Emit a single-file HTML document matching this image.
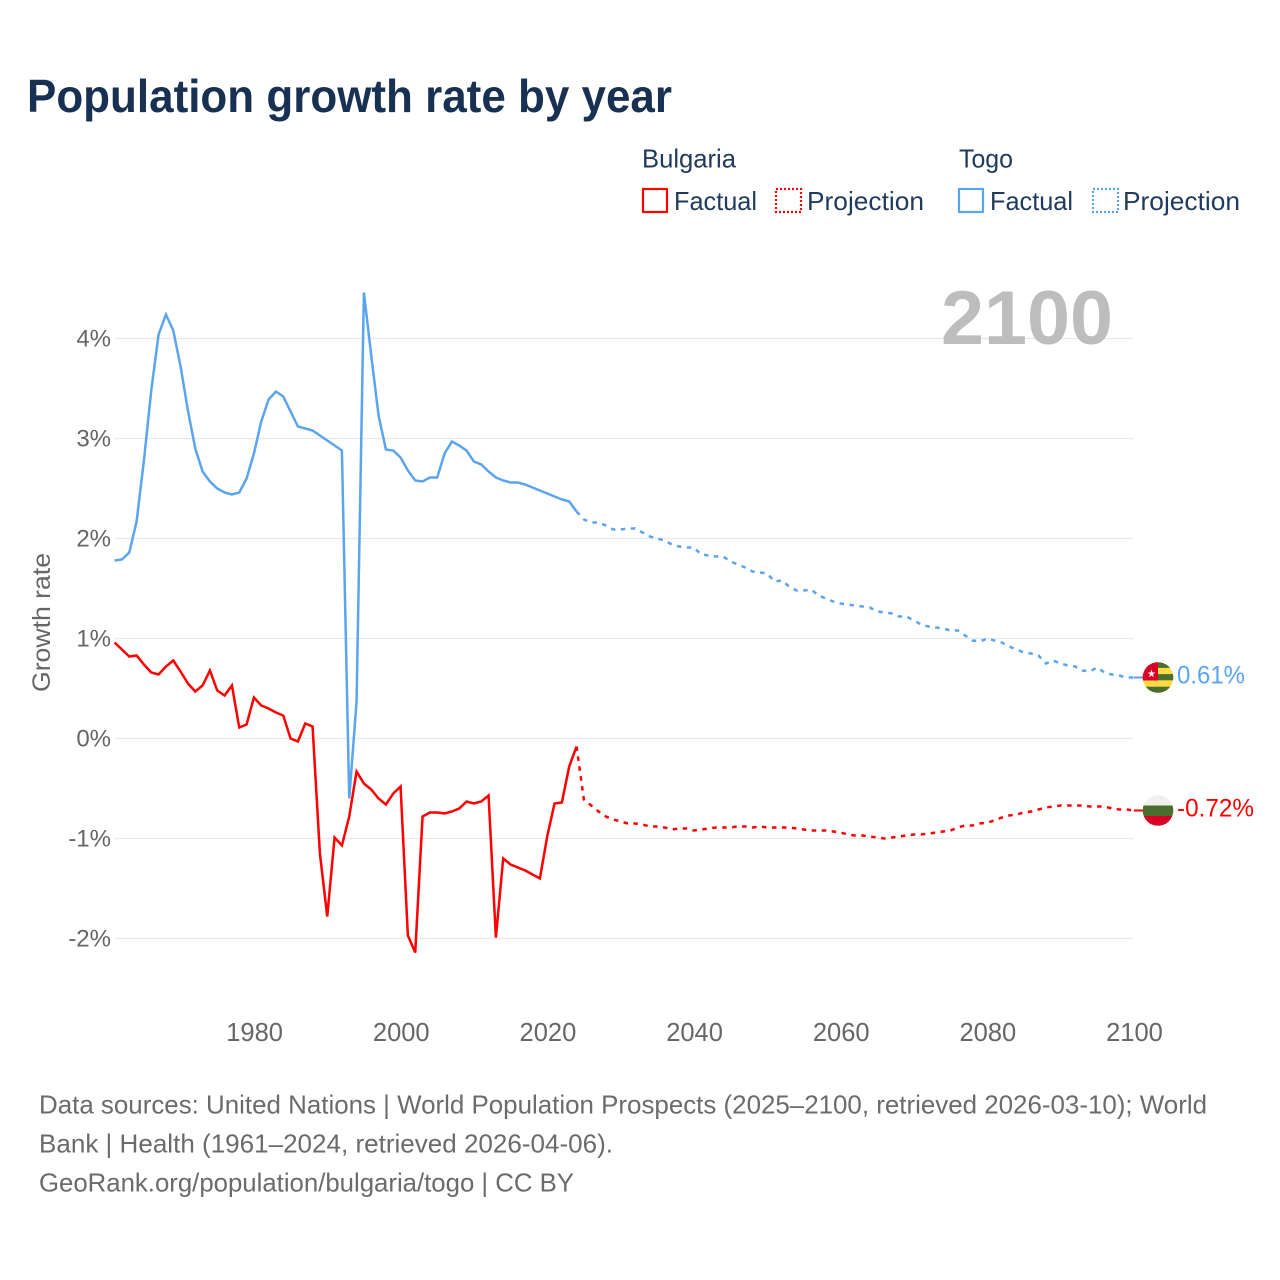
<!DOCTYPE html>
<html lang="en">
<head>
<meta charset="utf-8">
<title>Population growth rate by year</title>
<style>
html,body{margin:0;padding:0;background:#fff;}
svg{display:block;font-family:"Liberation Sans",sans-serif;}
</style>
</head>
<body>
<svg id="chart" xmlns="http://www.w3.org/2000/svg" width="1280" height="1280" viewBox="0 0 1280 1280">
  <rect x="0" y="0" width="1280" height="1280" fill="#ffffff"/>
  <text x="27" y="112" font-size="46" font-weight="700" fill="#183153" textLength="645" lengthAdjust="spacingAndGlyphs">Population growth rate by year</text>

  <g font-size="26" fill="#1f3a5c">
    <text x="642" y="167.5" textLength="94" lengthAdjust="spacingAndGlyphs">Bulgaria</text>
    <text x="959" y="167.5" textLength="54" lengthAdjust="spacingAndGlyphs">Togo</text>
    <g>
      <rect x="643" y="189" width="24" height="23" fill="none" stroke="#ff0000" stroke-width="2.2"/>
      <text x="674" y="210" textLength="83" lengthAdjust="spacingAndGlyphs">Factual</text>
    </g>
    <g>
      <rect x="776" y="189" width="25" height="23" fill="none" stroke="#ff0000" stroke-width="2.2" stroke-dasharray="2 2"/>
      <text x="807" y="210" textLength="117" lengthAdjust="spacingAndGlyphs">Projection</text>
    </g>
    <g>
      <rect x="959" y="189" width="24" height="23" fill="none" stroke="#5ba4ee" stroke-width="2.2"/>
      <text x="990" y="210" textLength="83" lengthAdjust="spacingAndGlyphs">Factual</text>
    </g>
    <g>
      <rect x="1093" y="189" width="25" height="23" fill="none" stroke="#5ba4ee" stroke-width="2.2" stroke-dasharray="2 2"/>
      <text x="1123" y="210" textLength="117" lengthAdjust="spacingAndGlyphs">Projection</text>
    </g>
  </g>

  <g id="grid"></g>
  <text x="941" y="344" font-size="76" font-weight="700" fill="#bdbdbd" textLength="172" lengthAdjust="spacingAndGlyphs">2100</text>
  <g id="yticks" font-size="24" fill="#666666" text-anchor="end"></g>
  <g id="xticks" font-size="25.5" fill="#666666" text-anchor="middle"></g>
  <text transform="translate(50,622.5) rotate(-90)" font-size="25" fill="#666666" text-anchor="middle" textLength="139" lengthAdjust="spacingAndGlyphs">Growth rate</text>
  <g id="series" fill="none" stroke-width="2.5" stroke-linejoin="miter"></g>
  <g id="ends"></g>

  <g font-size="26" fill="#6b6b6b">
    <text x="39" y="1113.5" textLength="1168" lengthAdjust="spacingAndGlyphs">Data sources: United Nations | World Population Prospects (2025–2100, retrieved 2026-03-10); World</text>
    <text x="39" y="1152.5" textLength="574" lengthAdjust="spacingAndGlyphs">Bank | Health (1961–2024, retrieved 2026-04-06).</text>
    <text x="39" y="1191.5" textLength="535" lengthAdjust="spacingAndGlyphs">GeoRank.org/population/bulgaria/togo | CC BY</text>
  </g>
</svg>
<script>
const xTickYears = [1980, 2000, 2020, 2040, 2060, 2080, 2100];
const yTickValues = [4, 3, 2, 1, 0, -1, -2];
const firstFactualYear = 1961;
const firstProjectionYear = 2024;

const togoFactual = [
  1.78,1.79,1.86,2.17,2.78,3.48,4.04,4.24,4.08,3.72,
  3.28,2.90,2.67,2.57,2.50,2.46,2.44,2.46,2.60,2.85,
  3.17,3.39,3.47,3.42,3.27,3.12,3.10,3.08,3.03,2.98,
  2.93,2.88,-0.60,0.37,4.46,3.83,3.23,2.89,2.88,2.81,
  2.68,2.58,2.57,2.61,2.61,2.85,2.97,2.93,2.88,2.77,
  2.74,2.67,2.61,2.58,2.56,2.56,2.54,2.51,2.48,2.45,
  2.42,2.39,2.37,2.27
];
const togoProjection = [
  2.27,2.19,2.16,2.16,2.13,2.09,2.09,2.10,2.10,2.06,
  2.02,2.00,1.98,1.94,1.92,1.91,1.91,1.84,1.83,1.82,
  1.82,1.77,1.74,1.71,1.67,1.66,1.65,1.57,1.58,1.52,
  1.48,1.48,1.49,1.43,1.40,1.37,1.35,1.34,1.33,1.32,
  1.31,1.27,1.26,1.25,1.22,1.22,1.18,1.14,1.12,1.11,
  1.10,1.08,1.08,1.03,0.98,0.97,1.00,0.98,0.96,0.92,
  0.89,0.86,0.85,0.83,0.75,0.78,0.75,0.73,0.72,0.68,
  0.67,0.71,0.66,0.64,0.63,0.61,0.61
];
const bulgariaFactual = [
  0.96,0.89,0.82,0.83,0.74,0.66,0.64,0.72,0.78,0.67,
  0.55,0.47,0.53,0.68,0.48,0.43,0.53,0.11,0.14,0.41,
  0.33,0.30,0.26,0.23,0.00,-0.03,0.15,0.12,-1.15,-1.78,
  -0.99,-1.07,-0.78,-0.33,-0.45,-0.51,-0.60,-0.66,-0.55,-0.48,
  -1.97,-2.14,-0.78,-0.74,-0.74,-0.75,-0.73,-0.70,-0.63,-0.65,
  -0.63,-0.57,-1.99,-1.20,-1.26,-1.29,-1.32,-1.36,-1.40,-0.98,
  -0.65,-0.64,-0.28,-0.08
];
const bulgariaProjection = [
  -0.08,-0.61,-0.67,-0.73,-0.78,-0.81,-0.83,-0.85,-0.85,-0.86,
  -0.88,-0.88,-0.89,-0.91,-0.90,-0.90,-0.92,-0.91,-0.90,-0.89,
  -0.89,-0.89,-0.88,-0.88,-0.89,-0.88,-0.89,-0.89,-0.89,-0.89,
  -0.90,-0.91,-0.92,-0.92,-0.92,-0.93,-0.94,-0.96,-0.97,-0.97,
  -0.98,-0.99,-1.00,-0.99,-0.98,-0.97,-0.96,-0.96,-0.95,-0.94,
  -0.93,-0.92,-0.89,-0.87,-0.87,-0.85,-0.84,-0.82,-0.79,-0.77,
  -0.76,-0.74,-0.73,-0.71,-0.69,-0.68,-0.67,-0.67,-0.67,-0.67,
  -0.68,-0.68,-0.68,-0.70,-0.71,-0.71,-0.72
];

const NS = 'http://www.w3.org/2000/svg';
const RED = '#ff0000';
const BLUE = '#5ba4ee';

function xScale(year) { return 114.6 + (year - 1961) * (1133.8 - 114.6) / (2100 - 1961); }
function yScale(v) { return 738.5 - v * 100; }
function make(tag, attrs, parent) {
  const el = document.createElementNS(NS, tag);
  for (const k in attrs) el.setAttribute(k, attrs[k]);
  parent.appendChild(el);
  return el;
}
function pathFor(values, startYear) {
  return values.map(function (v, i) {
    return (i ? 'L' : 'M') + xScale(startYear + i).toFixed(2) + ' ' + yScale(v).toFixed(2);
  }).join(' ');
}

const gridG = document.getElementById('grid');
const yTicksG = document.getElementById('yticks');
const xTicksG = document.getElementById('xticks');
const seriesG = document.getElementById('series');
const endsG = document.getElementById('ends');

yTickValues.forEach(function (v) {
  const line = make('line', { x1: 115, x2: 1133, y1: yScale(v), y2: yScale(v), stroke: '#e8e8e8', 'stroke-width': 1.2 }, gridG);
  
  
  const t = make('text', { x: 111, y: yScale(v) + 8 }, yTicksG);
  
  
  t.textContent = v + '%';
});

xTickYears.forEach(function (year) {
  const t = make('text', { x: xScale(year) + 0.7, y: 1041 }, xTicksG);
  
  
  t.textContent = String(year);
});

function drawSeries(key, values, startYear, color, dashed) {
  const attrs = { d: pathFor(values, startYear), stroke: color };
  if (dashed) attrs['stroke-dasharray'] = '4.5 5.5';
  const p = make('path', attrs, seriesG);
  
  
}
drawSeries('line-togo-factual', togoFactual, firstFactualYear, BLUE, false);
drawSeries('line-togo-projection', togoProjection, firstProjectionYear, BLUE, true);
drawSeries('line-bulgaria-factual', bulgariaFactual, firstFactualYear, RED, false);
drawSeries('line-bulgaria-projection', bulgariaProjection, firstProjectionYear, RED, true);

function drawEnd(country, value, color, labelWidth) {
  const cy = yScale(value);
  const lead = make('line', { x1: xScale(2100), x2: 1144, y1: cy, y2: cy, stroke: color, 'stroke-width': 2 }, endsG);
  
  

  const g = make('g', { transform: 'translate(1158,' + cy + ')' }, endsG);
  
  
  const clip = make('clipPath', { id: 'clip-' + country }, g);
  make('circle', { cx: 0, cy: 0, r: 15.3 }, clip);
  const inner = make('g', { 'clip-path': 'url(#clip-' + country + ')' }, g);
  if (country === 'togo') {
    make('rect', { x: -16, y: -16, width: 32, height: 32, fill: '#ffda44' }, inner);
    make('rect', { x: -16, y: -16, width: 32, height: 6.4, fill: '#496e2d' }, inner);
    make('rect', { x: -16, y: -3.4, width: 32, height: 6.2, fill: '#496e2d' }, inner);
    make('rect', { x: -16, y: 9.2, width: 32, height: 7, fill: '#496e2d' }, inner);
    make('rect', { x: -16, y: -16, width: 16, height: 19, fill: '#d80027' }, inner);
    make('polygon', { points: '-6.5,-8 -5.5,-5 -2.5,-5 -5,-3.2 -4,-0.2 -6.5,-2 -9,-0.2 -8,-3.2 -10.5,-5 -7.5,-5', fill: '#f0f0f0' }, inner);
  } else {
    make('rect', { x: -16, y: -16, width: 32, height: 11, fill: '#f0f0f0' }, inner);
    make('rect', { x: -16, y: -5, width: 32, height: 10.5, fill: '#496e2d' }, inner);
    make('rect', { x: -16, y: 5.5, width: 32, height: 11, fill: '#d80027' }, inner);
  }

  const label = make('text', { x: 1177, y: cy + 6, 'font-size': 25, fill: color, textLength: labelWidth, lengthAdjust: 'spacingAndGlyphs' }, endsG);
  
  
  label.textContent = value.toFixed(2) + '%';
}
drawEnd('togo', togoProjection[togoProjection.length - 1], BLUE, 68);
drawEnd('bulgaria', bulgariaProjection[bulgariaProjection.length - 1], RED, 77);
</script>
</body>
</html>
